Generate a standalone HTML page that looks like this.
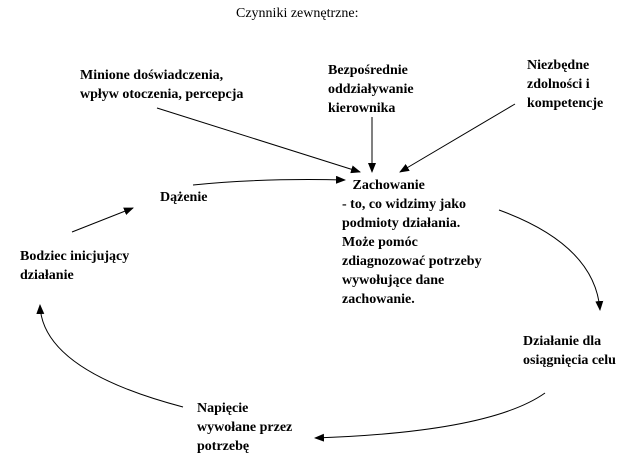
<!DOCTYPE html>
<html><head><meta charset="utf-8"><style>
html,body{margin:0;padding:0;background:#fff;width:636px;height:465px;overflow:hidden}
.t{position:absolute;font-family:"Liberation Serif",serif;font-weight:bold;font-size:14px;line-height:19px;color:#000;white-space:nowrap}
svg{position:absolute;left:0;top:0}
</style></head><body>
<svg width="636" height="465" viewBox="0 0 636 465">
<defs><marker id="a" markerWidth="10" markerHeight="8" refX="9" refY="4" orient="auto" markerUnits="userSpaceOnUse"><path d="M0,0 L10,4 L0,8 Z" fill="#000"/></marker></defs>
<g stroke="#000" stroke-width="1" fill="none" marker-end="url(#a)">
<line x1="157" y1="108" x2="360" y2="172"/>
<line x1="372" y1="117" x2="372" y2="172"/>
<line x1="515" y1="104" x2="400" y2="172"/>
<path d="M193,185 Q260,178 345,180"/>
<line x1="72" y1="232" x2="133" y2="208"/>
<path d="M499,210 Q595,245 600,310"/>
<path d="M545,393 Q490,432 315,438"/>
<path d="M183,407 Q42,370 40,305"/>
</g>
</svg>
<div class="t" style="left:236px;top:4px;font-weight:normal">Czynniki zewnętrzne:</div>
<div class="t" style="left:80px;top:66px">Minione doświadczenia,<br>wpływ otoczenia, percepcja</div>
<div class="t" style="left:328px;top:61px">Bezpośrednie<br>oddziaływanie<br>kierownika</div>
<div class="t" style="left:527px;top:56px">Niezbędne<br>zdolności i<br>kompetencje</div>
<div class="t" style="left:342px;top:176px">&nbsp;&nbsp;&nbsp;Zachowanie<br>- to, co widzimy jako<br>podmioty działania.<br>Może pomóc<br>zdiagnozować potrzeby<br>wywołujące dane<br>zachowanie.</div>
<div class="t" style="left:160px;top:188px">Dążenie</div>
<div class="t" style="left:20px;top:247px">Bodziec inicjujący<br>działanie</div>
<div class="t" style="left:523px;top:332px">Działanie dla<br>osiągnięcia celu</div>
<div class="t" style="left:197px;top:399px">Napięcie<br>wywołane przez<br>potrzebę</div>
</body></html>
